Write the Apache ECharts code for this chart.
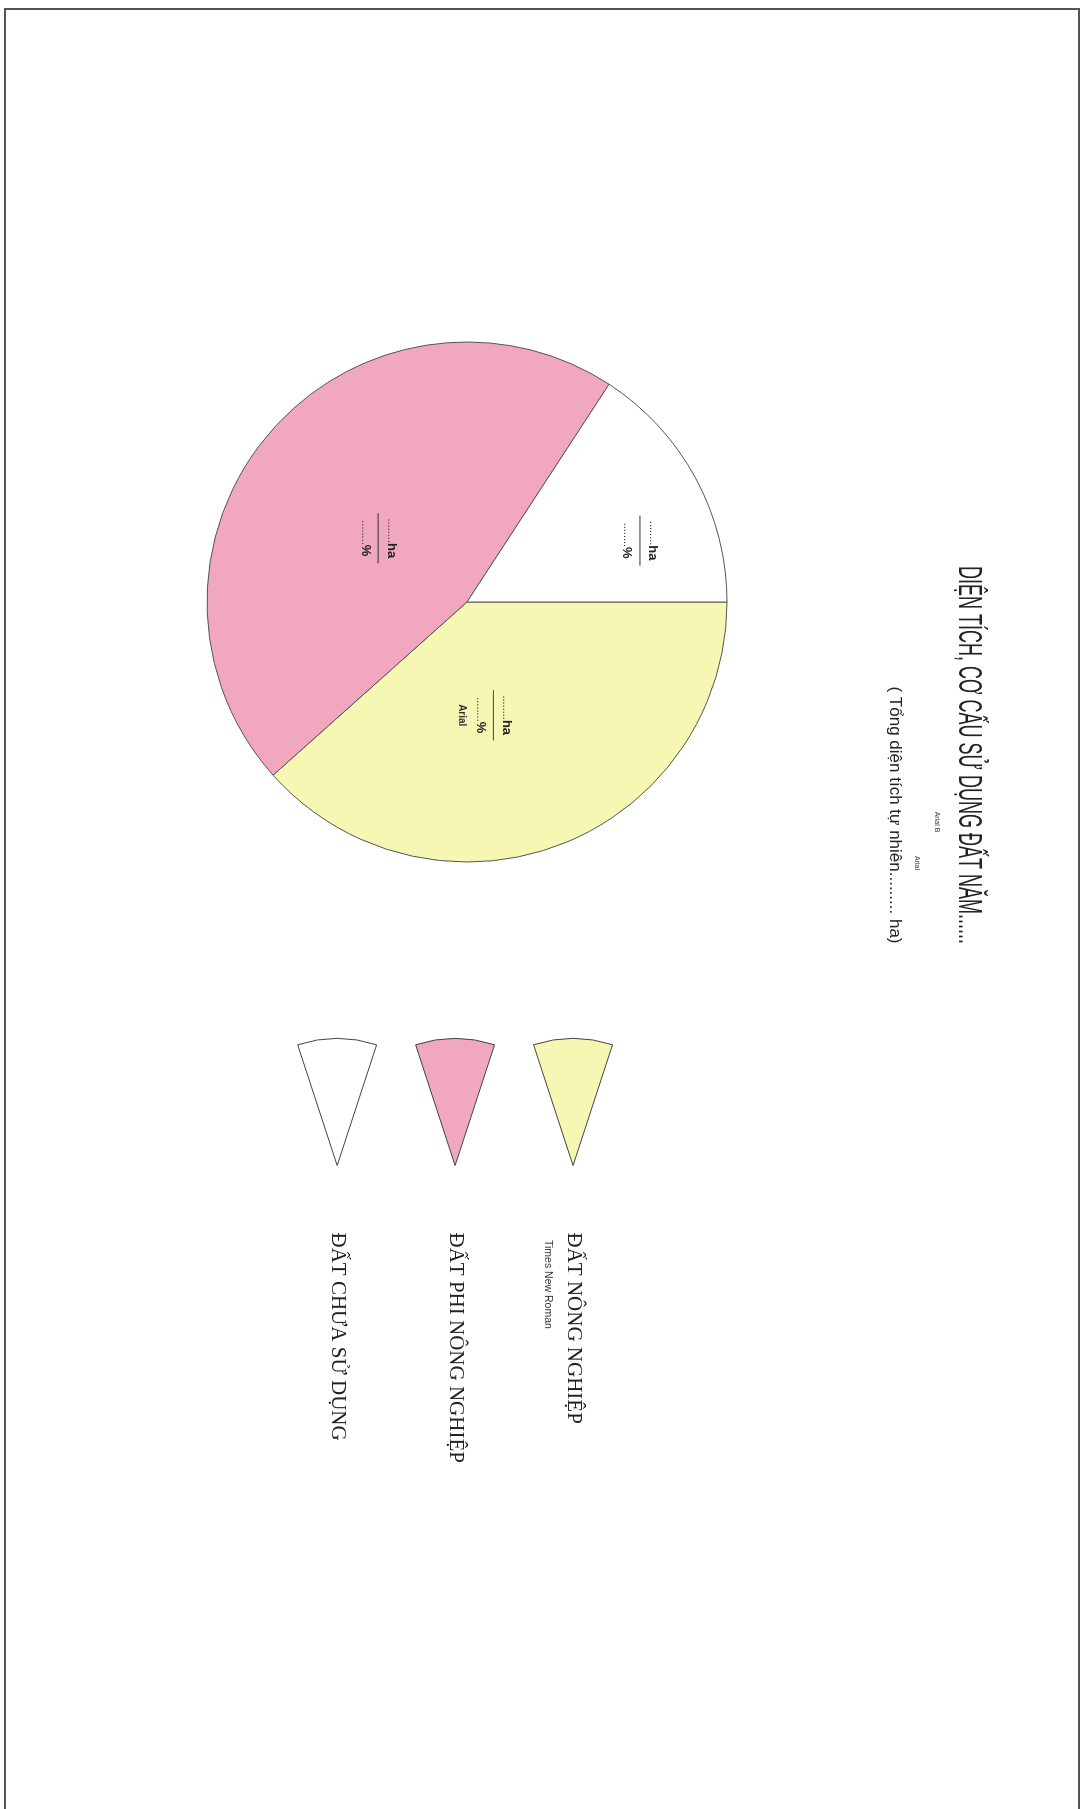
<!DOCTYPE html>
<html>
<head>
<meta charset="utf-8">
<title>DIỆN TÍCH, CƠ CẤU SỬ DỤNG ĐẤT</title>
<script src="https://cdn.jsdelivr.net/npm/echarts@6/dist/echarts.min.js"></script>
<style>
    html, body { margin: 0; padding: 0; background: #fff; overflow: hidden; }
    /* trang giấy nằm ngang, xoay 90 độ theo chiều kim đồng hồ */
    #bieudo {
        position: absolute; left: 0; top: 0;
        width: 1809px; height: 1081px;
        transform-origin: 0 0;
        transform: translate(1081px, 0) rotate(90deg);
    }
</style>
</head>
<body>
<div id="bieudo"></div>
<script>
// du lieu
var categories = ['ĐẤT NÔNG NGHIỆP', 'ĐẤT PHI NÔNG NGHIỆP', 'ĐẤT CHƯA SỬ DỤNG'];
var shares = [38.4, 45.8, 15.8];          // % uoc luong theo goc cua hinh quat
var sliceColors = ['#f7f7b4', '#f1a8bf', '#ffffff'];
var titleText = 'DIỆN TÍCH, CƠ CẤU SỬ DỤNG ĐẤT NĂM......';
var subText = '( Tổng diện tích tự nhiên......... ha)';

// xe dich nhan trong hinh quat (px)
var labelNudge = [[-11, 33], [23, -12], [2, -56]];

var pieData = [];
for (var i = 0; i < categories.length; i++) {
    pieData.push({ name: categories[i], value: shares[i], itemStyle: { color: sliceColors[i] } });
}

// hinh cai quat cho chu giai
var wedgeIcon = 'path://M127,39.5 L6.2,0 A127,127 0 0 0 6.2,79 Z';

var bieudo_Echarts = echarts.init(document.getElementById('bieudo'));
var bieudoOption = {
    backgroundColor: '#fff',
    animation: false,
    legend: {
        orient: 'vertical',
        left: 1033,
        top: 463,
        itemWidth: 127,
        itemHeight: 79,
        itemGap: 38,
        icon: wedgeIcon,
        data: categories,
        itemStyle: { borderColor: '#444', borderWidth: 1 },
        textStyle: {
            fontFamily: '"Liberation Serif", "Times New Roman", serif',
            fontSize: 21,
            color: '#222',
            padding: [0, 0, 0, 62]
        }
    },
    graphic: [
        {   // khung trang
            type: 'rect',
            shape: { x: 9, y: 2, width: 2000, height: 1074 },
            style: { fill: 'none', stroke: '#555', lineWidth: 2 },
            silent: true
        },
        {
            type: 'text',
            x: 755, y: 113,
            scaleX: 0.53,
            style: {
                text: titleText,
                font: '34px "Liberation Sans", Arial, sans-serif',
                fill: '#222',
                textAlign: 'center',
                textVerticalAlign: 'middle'
            }
        },
        {
            type: 'text',
            x: 822, y: 144,
            style: {
                text: 'Arial B',
                font: '7px "Liberation Sans", Arial, sans-serif',
                fill: '#333',
                textAlign: 'center',
                textVerticalAlign: 'middle'
            }
        },
        {
            type: 'text',
            x: 815, y: 186,
            style: {
                text: subText,
                font: '17px "Liberation Sans", Arial, sans-serif',
                fill: '#222',
                textAlign: 'center',
                textVerticalAlign: 'middle'
            }
        },
        {
            type: 'text',
            x: 863, y: 164,
            style: {
                text: 'Arial',
                font: '7px "Liberation Sans", Arial, sans-serif',
                fill: '#333',
                textAlign: 'center',
                textVerticalAlign: 'middle'
            }
        },
        {
            type: 'text',
            x: 1240, y: 533,
            style: {
                text: 'Times New Roman',
                font: '10.5px "Liberation Sans", Arial, sans-serif',
                fill: '#333',
                textAlign: 'left',
                textVerticalAlign: 'middle'
            }
        }
    ],
    series: [
        {
            name: 'Cơ cấu sử dụng đất',
            type: 'pie',
            center: [602, 614],
            radius: [0, 260],
            startAngle: 90,
            clockwise: true,
            itemStyle: { borderColor: '#555', borderWidth: 1 },
            label: {
                show: true,
                position: 'inside',
                formatter: function (p) {
                    var s = '{d|........}{a|ha}\n{hr|}\n{d|........}{a|%}';
                    if (p.dataIndex === 0) s += '\n{s|Arial}';
                    return s;
                },
                rich: {
                    d: { fontSize: 11, color: '#333', fontFamily: 'Liberation Sans', lineHeight: 14 },
                    a: { fontSize: 13, fontWeight: 'bold', color: '#222', fontFamily: 'Liberation Sans', lineHeight: 14 },
                    hr: { borderColor: '#333', width: 50, borderWidth: 0.6, height: 0, lineHeight: 12 },
                    s: { fontSize: 10, fontWeight: 'bold', color: '#333', fontFamily: 'Liberation Sans', lineHeight: 24 }
                }
            },
            labelLayout: function (p) {
                return { dx: labelNudge[p.dataIndex][0], dy: labelNudge[p.dataIndex][1] };
            },
            labelLine: { show: false },
            emphasis: { disabled: true },
            data: pieData
        }
    ]
};
bieudo_Echarts.setOption(bieudoOption);
</script>
</body>
</html>
